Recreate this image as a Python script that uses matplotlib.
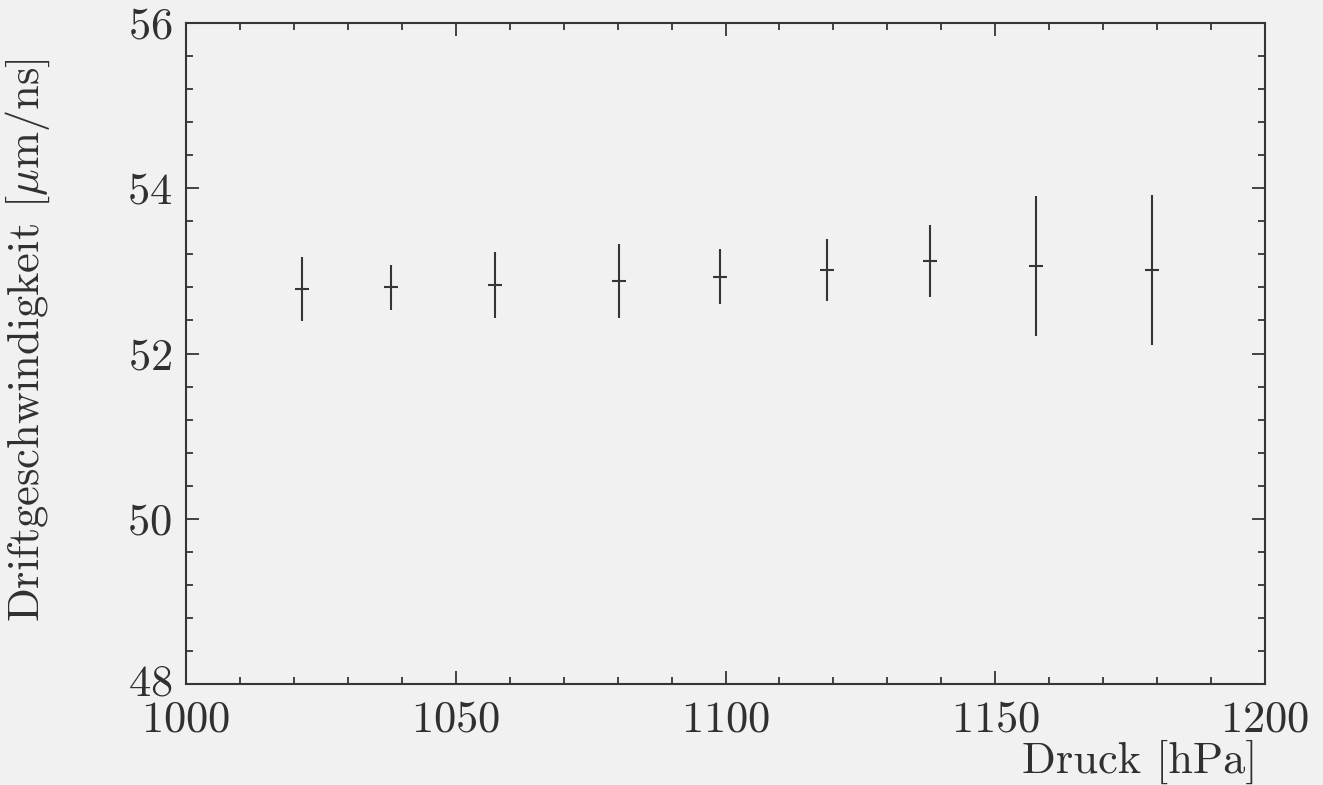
import matplotlib
matplotlib.use("Agg")
import matplotlib.pyplot as plt
from matplotlib.ticker import MultipleLocator

# Data
pressure = [1021.5, 1038.0, 1057.3, 1080.3, 1099.0, 1118.8, 1137.9, 1157.6, 1179.0]   # hPa
pressure_err = [1.3, 1.3, 1.3, 1.3, 1.3, 1.3, 1.3, 1.3, 1.3]
velocity = [52.78, 52.80, 52.83, 52.88, 52.93, 53.01, 53.12, 53.06, 53.01]           # um/ns
velocity_err = [0.39, 0.27, 0.40, 0.45, 0.33, 0.38, 0.44, 0.85, 0.91]

x_ticks = [1000, 1050, 1100, 1150, 1200]
y_ticks = [48, 50, 52, 54, 56]

plt.rcParams['font.family'] = ['cmr10', 'DejaVu Serif']
plt.rcParams['mathtext.fontset'] = 'cm'
plt.rcParams['axes.formatter.use_mathtext'] = True

paper = '#f1f1f1'
ink = '#353535'
text_ink = '#303030'

fig = plt.figure(figsize=(13.23, 7.85), dpi=100, facecolor=paper)
ax = fig.add_axes([186/1323, 1 - 684/785, (1265-186)/1323, (684-23)/785])
ax.set_facecolor(paper)

ax.errorbar(pressure, velocity, xerr=pressure_err, yerr=velocity_err,
            fmt='none', ecolor=ink, elinewidth=1.5, capsize=0)

ax.set_xlim(1000, 1200)
ax.set_ylim(48, 56)
ax.set_xticks(x_ticks)
ax.set_yticks(y_ticks)
ax.xaxis.set_minor_locator(MultipleLocator(10))
ax.yaxis.set_minor_locator(MultipleLocator(0.4))

for s in ax.spines.values():
    s.set_color(ink)
    s.set_linewidth(1.5)

ax.tick_params(which='both', direction='in', top=True, right=True,
               color=ink, width=1.3, labelcolor=text_ink, labelsize=32)
ax.tick_params(which='major', length=9.5)
ax.tick_params(which='minor', length=5.0)
ax.tick_params(axis='x', which='major', pad=12)
ax.tick_params(axis='y', which='major', pad=10)

ax.set_ylabel(r'Driftgeschwindigkeit [$\mu$m/ns]', fontsize=32, color=text_ink)
ax.yaxis.set_label_coords(-0.124, 0.52)
ax.set_xlabel('Druck [hPa]', fontsize=32, color=text_ink, ha='right')
ax.xaxis.set_label_coords(0.9935, -0.084)

fig.canvas.draw()
# lift the lowest y label a little, as in the reference it sits just above "1000"
import matplotlib.transforms as mtrans
lbl = ax.yaxis.get_majorticklabels()[0]
lbl.set_transform(lbl.get_transform() + mtrans.ScaledTranslation(0, 3/72, fig.dpi_scale_trans))

fig.savefig('out.png', dpi=100, facecolor=paper)
